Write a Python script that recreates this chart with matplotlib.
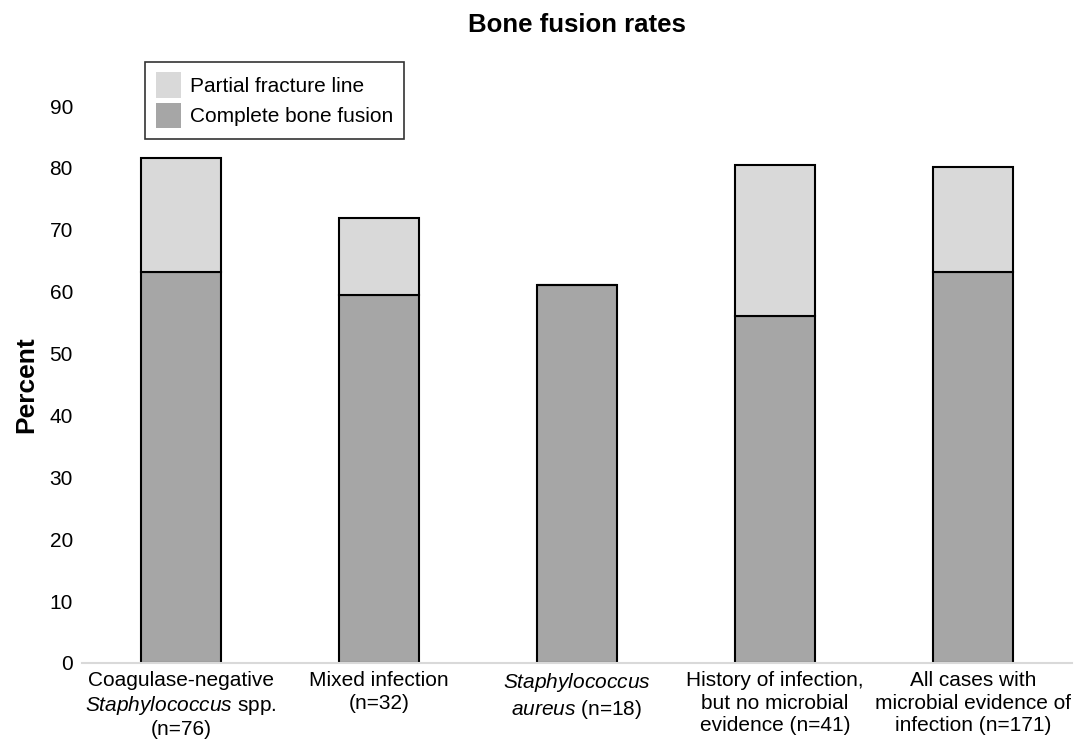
import matplotlib
matplotlib.use("Agg")
import matplotlib.pyplot as plt
import numpy as np

plt.rcParams['font.family'] = ['Liberation Sans', 'DejaVu Sans']
plt.rcParams['mathtext.fontset'] = 'custom'
plt.rcParams['mathtext.rm'] = 'Liberation Sans'
plt.rcParams['mathtext.it'] = 'Liberation Sans:italic'

# data
categories = [
    "Coagulase-negative\n$\\mathit{Staphylococcus}$ spp.\n(n=76)",
    "Mixed infection\n(n=32)",
    "$\\mathit{Staphylococcus}$\n$\\mathit{aureus}$ (n=18)",
    "History of infection,\nbut no microbial\nevidence (n=41)",
    "All cases with\nmicrobial evidence of\ninfection (n=171)",
]
complete = [63.2, 59.4, 61.1, 56.1, 63.2]
partial = [18.4, 12.5, 0.0, 24.4, 16.9]
yticks = [0, 10, 20, 30, 40, 50, 60, 70, 80, 90]

fig = plt.figure(figsize=(10.75, 7.44), dpi=100)
ax = fig.add_axes([0.0763, 0.1089, 0.9207, 0.7486])

x = np.arange(len(categories))
w = 0.404
ax.bar(x, complete, w, color='#a6a6a6', edgecolor='black', linewidth=1.5,
       label='Complete bone fusion', zorder=2)
ax.bar(x, partial, w, bottom=complete, color='#d9d9d9', edgecolor='black',
       linewidth=1.5, label='Partial fracture line', zorder=2)

ax.set_xlim(-0.5, len(categories) - 0.5)
ax.set_ylim(0, 90)
ax.set_yticks(yticks)
ax.set_xticks(x)
ax.set_xticklabels(categories, fontsize=15, multialignment='center',
                   linespacing=1.22)
ax.tick_params(axis='both', length=0, labelsize=15)
ax.tick_params(axis='y', pad=6.5)
ax.tick_params(axis='x', pad=6)

for s in ['top', 'right', 'left']:
    ax.spines[s].set_visible(False)
ax.spines['bottom'].set_color('#d9d9d9')
ax.spines['bottom'].set_linewidth(1.5)

ax.set_ylabel('Percent', fontsize=19, fontweight='bold', labelpad=8)
fig.text(0.5363, 0.967, 'Bone fusion rates', ha='center', va='center',
         fontsize=18.5, fontweight='bold')

h, l = ax.get_legend_handles_labels()
leg = fig.legend(h[::-1], l[::-1], loc='upper left',
                 bbox_to_anchor=(0.135, 0.917), fontsize=15,
                 frameon=True, fancybox=False, edgecolor='black',
                 handlelength=1.2, handleheight=1.5, borderpad=0.5,
                 labelspacing=0.25, handletextpad=0.45, borderaxespad=0)
leg.get_frame().set_linewidth(1.2)
for p in leg.get_patches():
    p.set_edgecolor('none')

fig.savefig('out.png', dpi=100)
